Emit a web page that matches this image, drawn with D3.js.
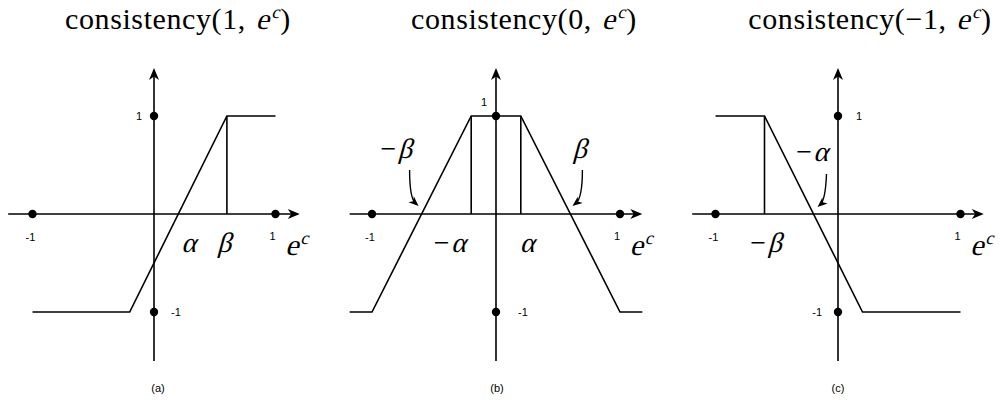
<!DOCTYPE html>
<html>
<head>
<meta charset="utf-8">
<script src="https://cdn.jsdelivr.net/npm/d3@7"></script>
<style>
  html, body { margin: 0; padding: 0; background: #fff; }
  svg { display: block; }
</style>
</head>
<body>
<svg id="chart" width="1004" height="405"></svg>
<script>
// Piecewise-linear consistency functions for three target values.
const alpha = 0.2;
const beta = 0.6;
const targets = [1, 0, -1];
const captions = ["(a)", "(b)", "(c)"];
const tickValues = [-1, 1];

// Breakpoints [e^c, consistency] of each curve
const curveA = [[-1, -1], [-0.2, -1], [0.6, 1], [1, 1]];
const curveB = [[-1.18, -1], [-1, -1], [-0.2, 1], [0.2, 1], [1, -1], [1.18, -1]];
const curveC = [[-1, 1], [-0.6, 1], [0.2, -1], [1, -1]];
// x positions of the vertical guides dropped from the plateau
const dropsA = [0.6];
const dropsB = [-0.2, 0.2];
const dropsC = [-0.6];

const curves = [curveA, curveB, curveC];
const drops = [dropsA, dropsB, dropsC];

// Layout of each panel (pixel geometry)
const layout = [
  { cx: 154, unit: 121.5, titleX: 178, capX: 158, yTickSide: "left", xExt: 1.2 },
  { cx: 496, unit: 124,   titleX: 524, capX: 497, yTickSide: "mixed", xExt: 1.18 },
  { cx: 838, unit: 122.5, titleX: 870, capX: 838, yTickSide: "right", xExt: 1.19 }
];
const y0 = 214, yUnit = 98;

const svg = d3.select("#chart");
const ink = "#000";
const lw = 1.6;
const serif = "'Liberation Serif', 'DejaVu Serif', serif";
const sans = "'Liberation Sans', Arial, sans-serif";

function arrowHead(g, x, y, angleDeg, len, wid) {
  const a = angleDeg * Math.PI / 180;
  const ux = Math.cos(a), uy = Math.sin(a);
  const px = -uy, py = ux;
  const bx = x - ux * len, by = y - uy * len;
  const ix = x - ux * len * 0.72, iy = y - uy * len * 0.72;
  g.append("path")
    .attr("d", `M${x},${y}L${bx + px * wid / 2},${by + py * wid / 2}L${ix},${iy}L${bx - px * wid / 2},${by - py * wid / 2}Z`)
    .attr("fill", ink);
}

// Math-style label: pieces laid out left to right, italic pieces slanted,
// superscripts raised and reduced.
function mathLabel(g, x, y, parts, size, anchor, spacing) {
  const grp = g.append("g");
  let cursor = 0;
  parts.forEach(p => {
    const fs = p.sup ? size * 0.6 : size;
    const dy = p.sup ? -size * 0.38 : 0;
    const t = grp.append("text")
      .attr("font-family", serif)
      .attr("font-size", fs)
      .attr("fill", ink)
      .attr("letter-spacing", spacing || 0)
      .text(p.t);
    const w = t.node().getComputedTextLength();
    t.attr("transform", `translate(${cursor + (p.i ? fs * 0.05 : 0)},${dy})` + (p.i ? " skewX(-15)" : ""));
    cursor += w + (p.i ? fs * 0.08 : 0);
  });
  const off = anchor === "start" ? 0 : anchor === "end" ? -cursor : -cursor / 2;
  grp.attr("transform", `translate(${x + off},${y})`);
  return grp;
}

function curlyArrow(g, x1, y1, cx, cy, x2, y2) {
  g.append("path")
    .attr("d", `M${x1},${y1}Q${cx},${cy} ${x2 - (x2 - cx) * 0.35},${y2 - (y2 - cy) * 0.35}`)
    .attr("fill", "none").attr("stroke", ink).attr("stroke-width", 1.4);
  const ang = Math.atan2(y2 - cy, x2 - cx) * 180 / Math.PI;
  arrowHead(g, x2, y2, ang, 10, 8);
}

targets.forEach((tv, i) => {
  const L = layout[i];
  const x = d3.scaleLinear().domain([-1, 1]).range([L.cx - L.unit, L.cx + L.unit]);
  const y = d3.scaleLinear().domain([-1, 1]).range([y0 + yUnit, y0 - yUnit]);
  const g = svg.append("g");

  // Title
  const tParts = [{ t: "consistency(" + (tv < 0 ? "\u2212" + (-tv) : tv) + ",\u00a0" }, { t: "e", i: true }, { t: "c", i: true, sup: true }, { t: ")" }];
  mathLabel(g, L.titleX, 29, tParts, 30, "middle", 0.6);

  // Axes
  const xEnd = x(L.xExt);
  g.append("line").attr("x1", x(-L.xExt)).attr("x2", xEnd - 6).attr("y1", y(0)).attr("y2", y(0))
    .attr("stroke", ink).attr("stroke-width", lw);
  arrowHead(g, xEnd, y(0), 0, 12, 10);
  const yTop = y(1.49);
  g.append("line").attr("x1", x(0)).attr("x2", x(0)).attr("y1", y(-1.5)).attr("y2", yTop + 6)
    .attr("stroke", ink).attr("stroke-width", lw);
  arrowHead(g, x(0), yTop, -90, 12, 10);

  // Vertical guides from plateau to the axis
  drops[i].forEach(d => {
    const v = d3.scaleLinear().domain(curves[i].map(p => p[0])).range(curves[i].map(p => p[1]))(d);
    g.append("line").attr("x1", x(d)).attr("x2", x(d)).attr("y1", y(0)).attr("y2", y(v))
      .attr("stroke", ink).attr("stroke-width", lw);
  });

  // Curve
  g.append("path")
    .datum(curves[i])
    .attr("d", d3.line().x(d => x(d[0])).y(d => y(d[1])))
    .attr("fill", "none").attr("stroke", ink).attr("stroke-width", lw)
    .attr("stroke-linejoin", "miter");

  // Tick dots
  tickValues.forEach(tk => {
    g.append("circle").attr("cx", x(tk)).attr("cy", y(0)).attr("r", 4.2).attr("fill", ink);
    g.append("circle").attr("cx", x(0)).attr("cy", y(tk)).attr("r", 4.2).attr("fill", ink);
  });

  // Tick labels
  const small = (tx, ty, s, anchor) => g.append("text").attr("x", tx).attr("y", ty)
    .attr("font-family", sans).attr("font-size", 11).attr("text-anchor", anchor || "middle")
    .attr("fill", ink).text(s);
  small(x(-1) - 2, y(0) + 27, "-1");
  small(x(1) - 3, y(0) + 26, "1");
  if (L.yTickSide === "left") {
    small(x(0) - 15, y(1) + 4, "1");
    small(x(0) + 17, y(-1) + 4, "-1", "start");
  } else if (L.yTickSide === "right") {
    small(x(0) + 21, y(1) + 4, "1");
    small(x(0) - 16, y(-1) + 4, "-1", "end");
  } else {
    small(x(0) - 12, y(1) - 10, "1");
    small(x(0) + 22, y(-1) + 4, "-1", "start");
  }

  // Axis name e^c
  mathLabel(g, x(1) + 8, y(0) + 41, [{ t: "e", i: true }, { t: "c", i: true, sup: true }], 30, "start");

  // Caption
  g.append("text").attr("x", L.capX).attr("y", 392)
    .attr("font-family", sans).attr("font-size", 11).attr("text-anchor", "middle")
    .attr("fill", ink).text(captions[i]);

  // Parameter annotations
  const gk = 28;
  if (i === 0) {
    mathLabel(g, x(alpha) + 10, y(0) + 38, [{ t: "\u03b1", i: true }], gk);
    mathLabel(g, x(beta) - 3, y(0) + 38, [{ t: "\u03b2", i: true }], gk);
  } else if (i === 1) {
    mathLabel(g, x(-alpha) - 21, y(0) + 38, [{ t: "\u2212" }, { t: "\u03b1", i: true }], gk);
    mathLabel(g, x(alpha) + 6, y(0) + 38, [{ t: "\u03b1", i: true }], gk);
    mathLabel(g, x(-beta) - 25, 158, [{ t: "\u2212" }, { t: "\u03b2", i: true }], gk);
    mathLabel(g, x(beta) + 9, 158, [{ t: "\u03b2", i: true }], gk);
    curlyArrow(g, x(-beta) - 12, 170, x(-beta) - 12, 198, x(-beta) - 3, 206);
    curlyArrow(g, x(beta) + 12, 170, x(beta) + 12, 198, x(beta) + 2, 206);
  } else {
    mathLabel(g, x(-alpha) - 1, 161, [{ t: "\u2212" }, { t: "\u03b1", i: true }], gk);
    mathLabel(g, x(-beta) + 2, y(0) + 38, [{ t: "\u2212" }, { t: "\u03b2", i: true }], gk);
    curlyArrow(g, x(-alpha) + 13, 174, x(-alpha) + 12, 200, x(-alpha) + 4, 207);
  }
});
</script>
</body>
</html>
